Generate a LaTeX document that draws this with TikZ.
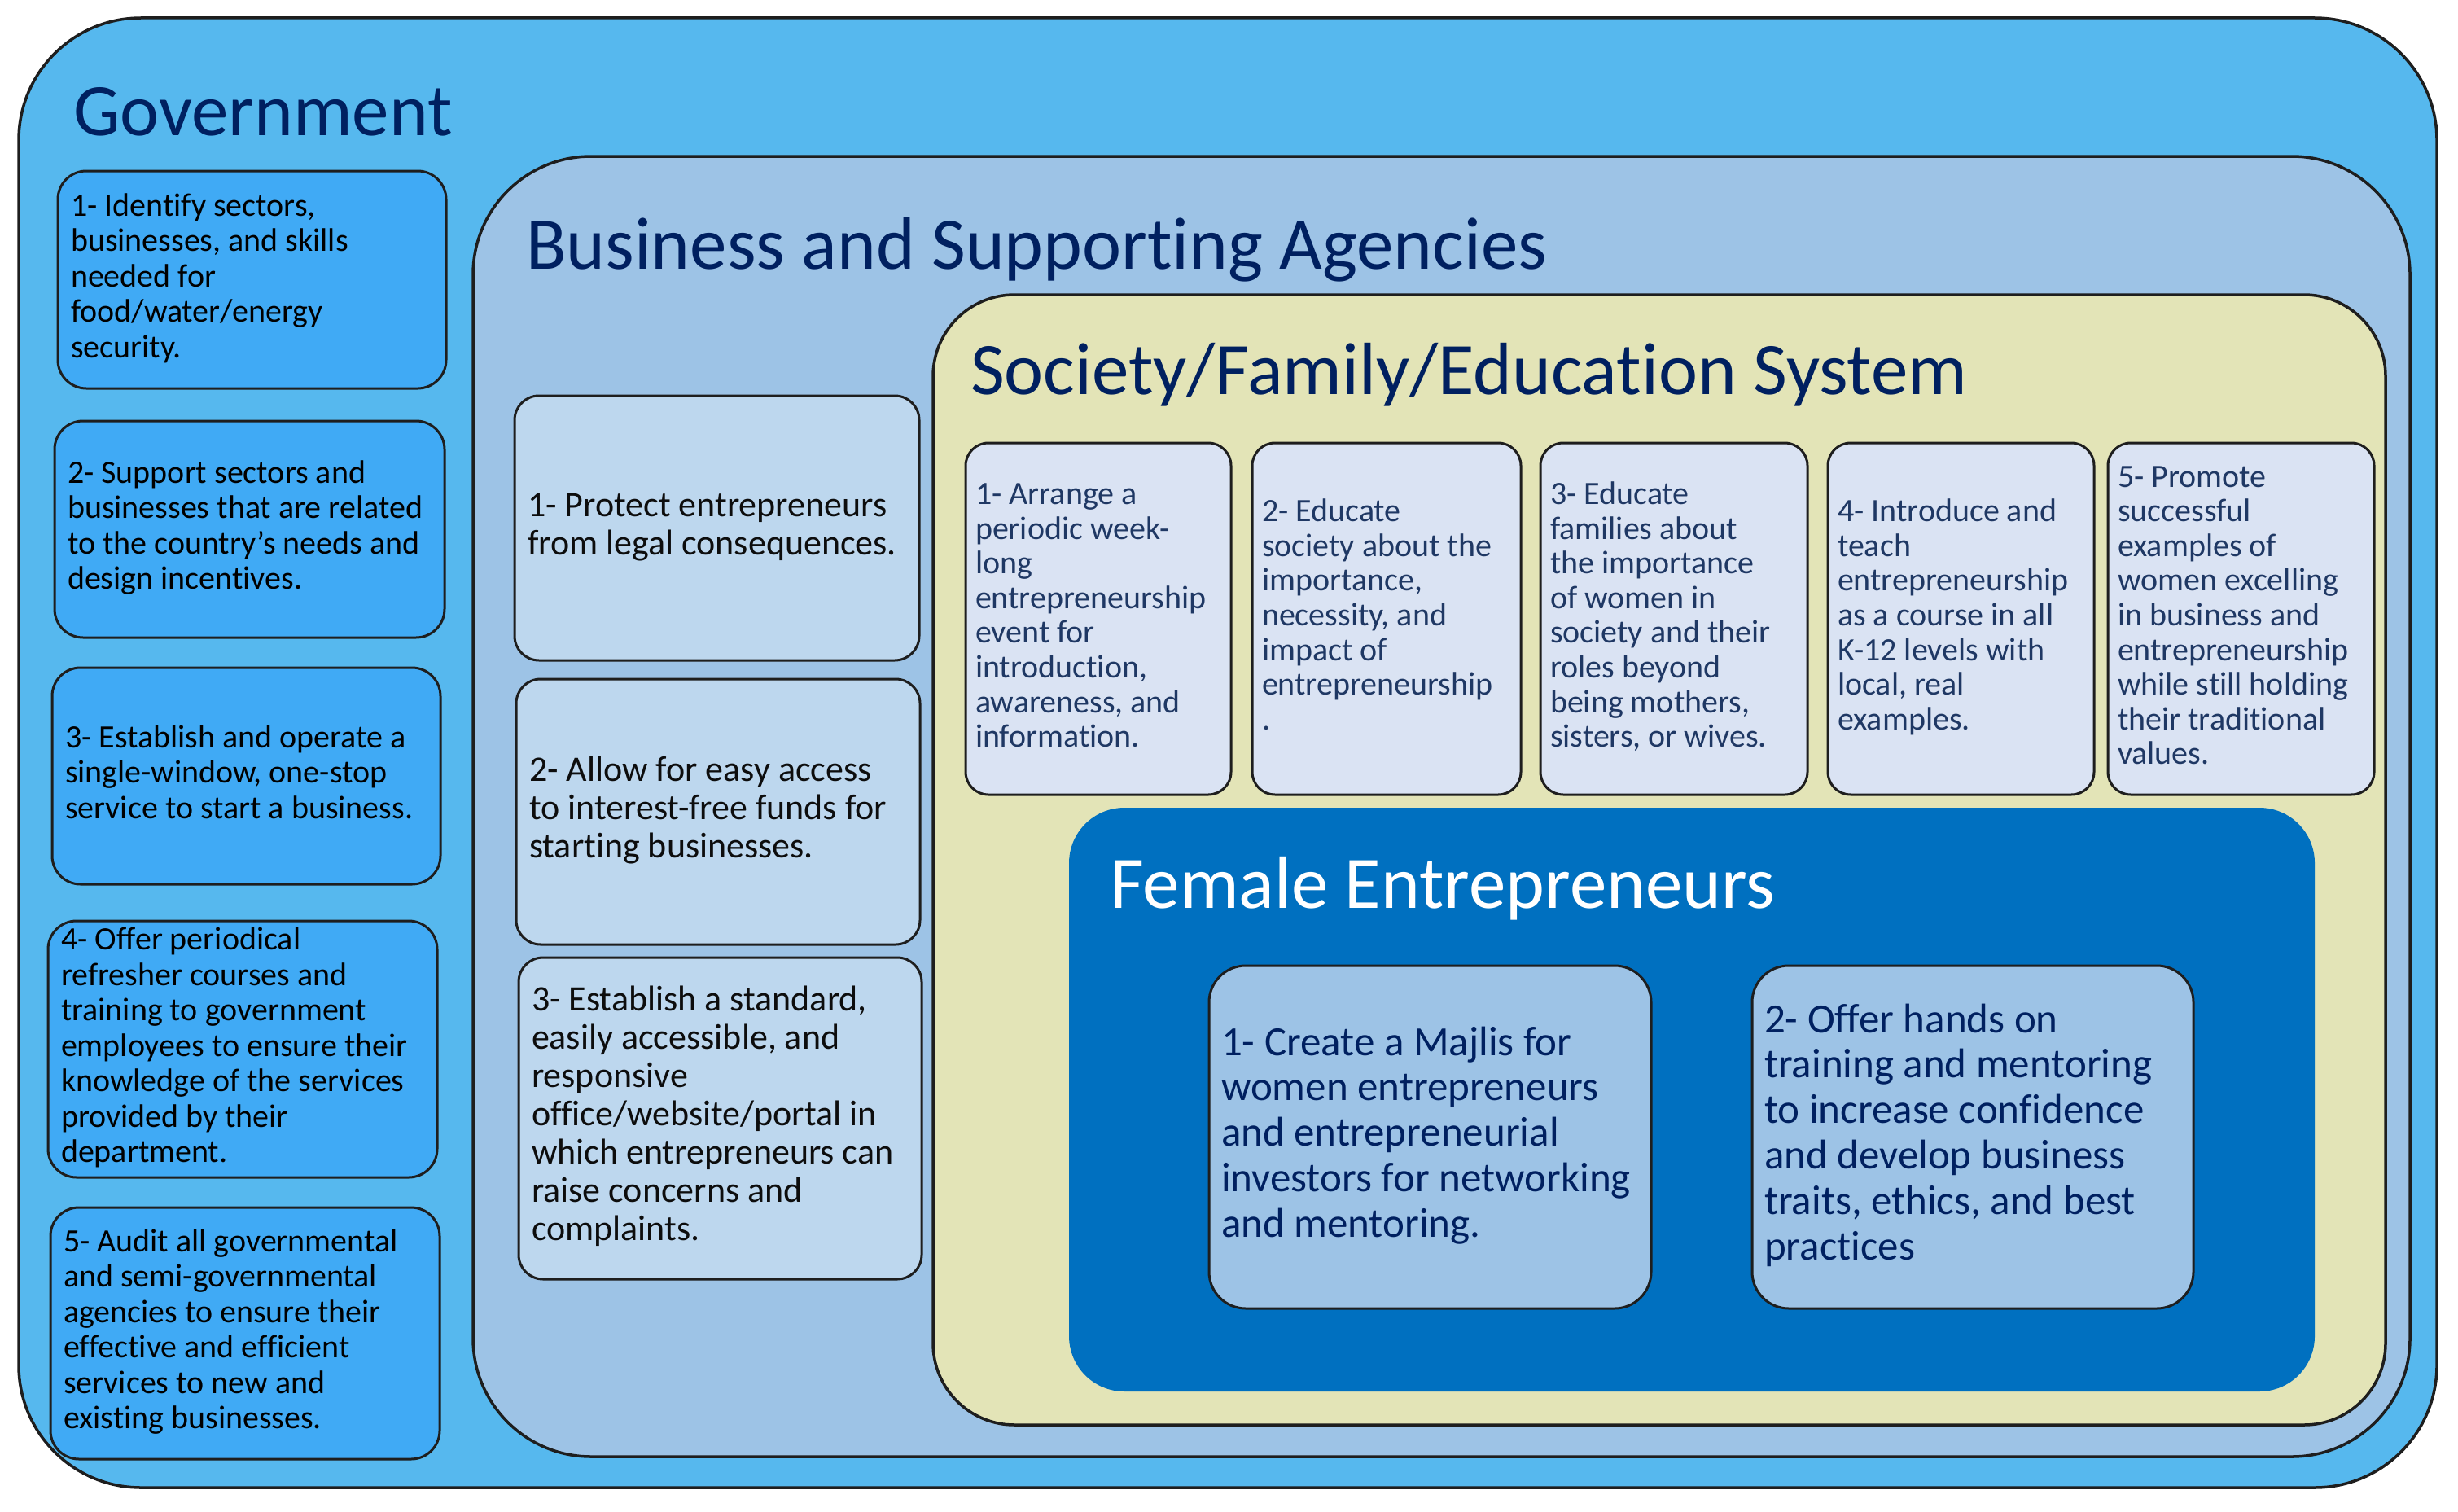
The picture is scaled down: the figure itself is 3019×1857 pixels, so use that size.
\documentclass[tikz,border=0pt]{standalone}
\usepackage{fontspec}
\setmainfont{Carlito}[Ligatures={NoCommon,NoRare,NoContextual}]
\definecolor{outerc}{HTML}{56B8EE}
\definecolor{govc}{HTML}{40AAF5}
\definecolor{busc}{HTML}{9DC3E6}
\definecolor{busboxc}{HTML}{BDD7EE}
\definecolor{socc}{HTML}{E3E4B7}
\definecolor{colc}{HTML}{DAE3F3}
\definecolor{femc}{HTML}{0070C0}
\definecolor{femboxc}{HTML}{9DC3E6}
\definecolor{navy}{HTML}{002060}
\definecolor{coltext}{HTML}{1F3864}
\definecolor{linec}{HTML}{1E1E1E}
\newcommand{\bt}[2]{\makebox[#1pt][l]{\begin{tabular}{@{}l@{}}#2\end{tabular}}}
\begin{document}
\begin{tikzpicture}[x=1pt,y=-1pt,
  container/.style={draw=linec, line width=3.5pt, inner sep=0pt},
  titletext/.style={anchor=base west, inner sep=0pt, text=navy, font=\fontsize{91}{100}\selectfont},
  gbox/.style={draw=linec, line width=3pt, fill=govc, rounded corners=35pt, inner xsep=16pt, inner ysep=0pt, text=black, font=\fontsize{40}{43.5}\selectfont},
  bbox/.style={draw=linec, line width=3pt, fill=busboxc, rounded corners=30pt, inner xsep=16pt, inner ysep=0pt, text=black!95, font=\fontsize{44}{47}\selectfont},
  cbox/.style={draw=linec, line width=3pt, fill=colc, rounded corners=28pt, inner xsep=12pt, inner ysep=0pt, text=coltext, font=\fontsize{40}{42.6}\selectfont, minimum height=432pt},
  fbox/.style={draw=linec, line width=3pt, fill=femboxc, rounded corners=45pt, inner xsep=15pt, inner ysep=0pt, text=navy, font=\fontsize{51}{55.8}\selectfont, minimum height=421pt}
]
\path[fill=white] (0,0) rectangle (3019,1857);
\useasboundingbox (0,0) rectangle (3019,1857);

% containers
\node[container, fill=outerc, rounded corners=150pt, minimum width=2970pt, minimum height=1805pt] (gov) at (1508,924.5) {};
\node[container, fill=busc, rounded corners=145pt, minimum width=2379pt, minimum height=1597pt] (bus) at (1770.5,990.5) {};
\node[container, fill=socc, rounded corners=100pt, minimum width=1784pt, minimum height=1388pt] (soc) at (2038,1056) {};
\node[inner sep=0pt, fill=femc, rounded corners=68pt, minimum width=1530pt, minimum height=717pt] (fem) at (2078,1350.5) {};

% titles
\node[titletext] (govtitle) at (90,166) {Government};
\node[titletext] (bustitle) at (646,330) {Business and Supporting Agencies};
\node[titletext] (soctitle) at (1192,484) {Society/Family/Education System};
\node[titletext, text=white] (femtitle) at (1363,1115) {Female Entrepreneurs};

% government boxes
\node[gbox, minimum height=267pt] (g1) at (309.5,343.5) {\bt{445}{1- Identify sectors,\\ businesses, and skills\\ needed for\\ food/water/energy\\ security.}};
\node[gbox, minimum height=266pt] (g2) at (306.5,650) {\bt{447}{2- Support sectors and\\ businesses that are related\\ to the country’s needs and\\ design incentives.}};
\node[gbox, minimum height=266pt] (g3) at (302.5,953) {\bt{445}{3- Establish and operate a\\ single-window, one-stop\\ service to start a business.}};
\node[gbox, minimum height=315pt] (g4) at (298,1288.5) {\bt{446}{4- Offer periodical\\ refresher courses and\\ training to government\\ employees to ensure their\\ knowledge of the services\\ provided by their\\ department.}};
\node[gbox, minimum height=309pt] (g5) at (301,1637.5) {\bt{446}{5- Audit all governmental\\ and semi-governmental\\ agencies to ensure their\\ effective and efficient\\ services to new and\\ existing businesses.}};

% business boxes
\node[bbox, minimum height=325pt] (b1) at (880.5,648.5) {\bt{465}{1- Protect entrepreneurs\\ from legal consequences.}};
\node[bbox, minimum height=326pt] (b2) at (882,997) {\bt{464}{2- Allow for easy access\\ to interest-free funds for\\ starting businesses.}};
\node[bbox, minimum height=395pt] (b3) at (884.5,1373.5) {\bt{463}{3- Establish a standard,\\ easily accessible, and\\ responsive\\ office/website/portal in\\ which entrepreneurs can\\ raise concerns and\\ complaints.}};

% society boxes
\node[cbox] (c1) at (1349,760) {\bt{302}{1- Arrange a\\ periodic week-\\ long\\ entrepreneurship\\ event for\\ introduction,\\ awareness, and\\ information.}};
\node[cbox] (c2) at (1703,760) {\bt{306}{2- Educate\\ society about the\\ importance,\\ necessity, and\\ impact of\\ entrepreneurship\\ .}};
\node[cbox] (c3) at (2056,760) {\bt{304}{3- Educate\\ families about\\ the importance\\ of women in\\ society and their\\ roles beyond\\ being mothers,\\ sisters, or wives.}};
\node[cbox] (c4) at (2408.5,760) {\bt{303}{4- Introduce and\\ teach\\ entrepreneurship\\ as a course in all\\ K-12 levels with\\ local, real\\ examples.}};
\node[cbox] (c5) at (2752.5,760) {\bt{303}{5- Promote\\ successful\\ examples of\\ women excelling\\ in business and\\ entrepreneurship\\ while still holding\\ their traditional\\ values.}};

% female boxes
\node[fbox] (f1) at (1756.5,1396.5) {\bt{513}{1- Create a Majlis for\\ women entrepreneurs\\ and entrepreneurial\\ investors for networking\\ and mentoring.}};
\node[fbox] (f2) at (2423,1396.5) {\bt{512}{2- Offer hands on\\ training and mentoring\\ to increase confidence\\ and develop business\\ traits, ethics, and best\\ practices}};
\end{tikzpicture}
\end{document}
